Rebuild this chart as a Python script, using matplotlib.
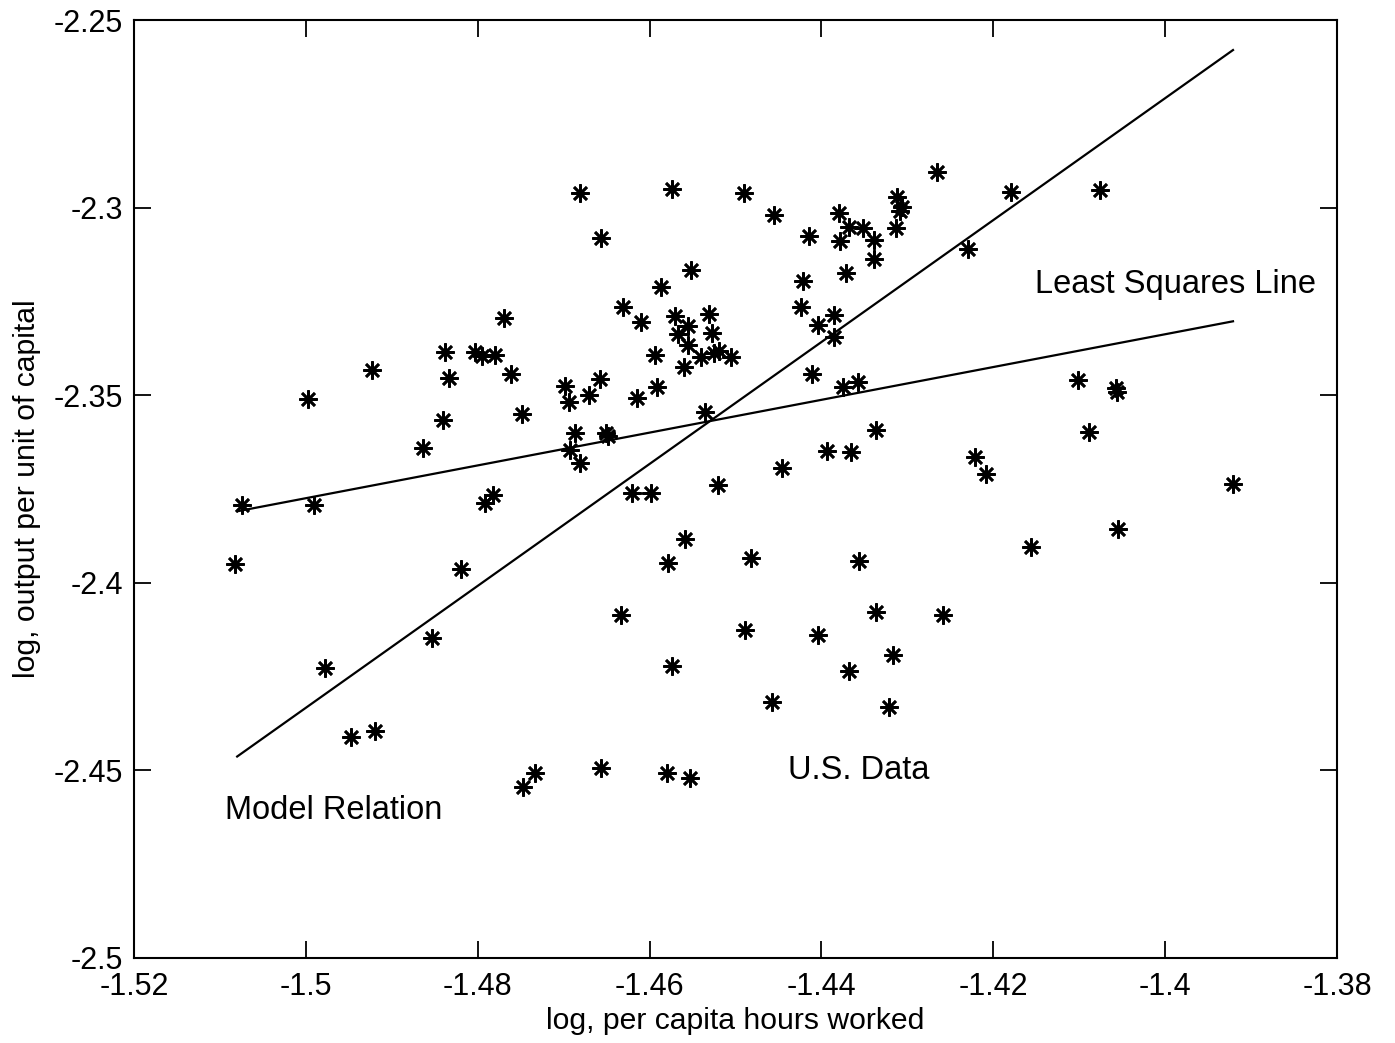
import matplotlib
matplotlib.use("Agg")
import matplotlib.pyplot as plt
import numpy as np

plt.rcParams["font.family"] = ["Liberation Sans", "DejaVu Sans"]

# U.S. data: log per capita hours worked vs log output per unit of capital
hours = [
    -1.5082, -1.5074, -1.4991, -1.4997, -1.4978, -1.4948, -1.4920, -1.4923, -1.4864, -1.4853,
    -1.4840, -1.4838, -1.4834, -1.4820, -1.4803, -1.4795, -1.4780, -1.4769, -1.4761, -1.4749,
    -1.4791, -1.4782, -1.4747, -1.4733, -1.4699, -1.4694, -1.4687, -1.4693, -1.4681, -1.4681,
    -1.4657, -1.4658, -1.4671, -1.4657, -1.4651, -1.4648, -1.4633, -1.4631, -1.4615, -1.4620,
    -1.4610, -1.4598, -1.4594, -1.4591, -1.4587, -1.4580, -1.4578, -1.4574, -1.4574, -1.4570,
    -1.4567, -1.4559, -1.4560, -1.4555, -1.4555, -1.4553, -1.4552, -1.4540, -1.4535, -1.4531,
    -1.4527, -1.4525, -1.4519, -1.4505, -1.4520, -1.4490, -1.4489, -1.4482, -1.4457, -1.4455,
    -1.4446, -1.4424, -1.4422, -1.4414, -1.4411, -1.4404, -1.4404, -1.4393, -1.4385, -1.4385,
    -1.4379, -1.4378, -1.4375, -1.4371, -1.4368, -1.4368, -1.4366, -1.4357, -1.4356, -1.4352,
    -1.4339, -1.4339, -1.4336, -1.4336, -1.4321, -1.4317, -1.4313, -1.4312, -1.4306, -1.4308,
    -1.4265, -1.4259, -1.4230, -1.4221, -1.4208, -1.4179, -1.4156, -1.4101, -1.4089, -1.4076,
    -1.4057, -1.4056, -1.4055, -1.3921,
]
output = [
    -2.3950, -2.3793, -2.3793, -2.3511, -2.4228, -2.4410, -2.4394, -2.3433, -2.3642, -2.4148,
    -2.3566, -2.3384, -2.3455, -2.3964, -2.3384, -2.3396, -2.3393, -2.3295, -2.3444, -2.3550,
    -2.3787, -2.3766, -2.4543, -2.4508, -2.3475, -2.3519, -2.3602, -2.3646, -2.3682, -2.2962,
    -2.3082, -2.3457, -2.3499, -2.4494, -2.3602, -2.3609, -2.4086, -2.3264, -2.3508, -2.3760,
    -2.3304, -2.3760, -2.3393, -2.3478, -2.3211, -2.4506, -2.3946, -2.2951, -2.4222, -2.3288,
    -2.3338, -2.3884, -2.3424, -2.3316, -2.3366, -2.4521, -2.3166, -2.3399, -2.3544, -2.3284,
    -2.3333, -2.3388, -2.3381, -2.3397, -2.3739, -2.2960, -2.4126, -2.3935, -2.4317, -2.3020,
    -2.3695, -2.3266, -2.3195, -2.3076, -2.3444, -2.3313, -2.4139, -2.3648, -2.3286, -2.3344,
    -2.3014, -2.3088, -2.3477, -2.3175, -2.3051, -2.4234, -2.3651, -2.3466, -2.3941, -2.3055,
    -2.3086, -2.3138, -2.3593, -2.4077, -2.4330, -2.4192, -2.3053, -2.2971, -2.2998, -2.3009,
    -2.2904, -2.4087, -2.3111, -2.3665, -2.3709, -2.2959, -2.3904, -2.3460, -2.3597, -2.2954,
    -2.3480, -2.3492, -2.3856, -2.3736,
]

# end points of the two lines
model_x = [-1.5080, -1.3921]
model_y = [-2.4463, -2.2580]
lsq_x = [-1.5079, -1.3921]
lsq_y = [-2.3809, -2.3303]

xticks = [-1.52, -1.50, -1.48, -1.46, -1.44, -1.42, -1.40, -1.38]
xtick_labels = ["-1.52", "-1.5", "-1.48", "-1.46", "-1.44", "-1.42", "-1.4", "-1.38"]
yticks = [-2.50, -2.45, -2.40, -2.35, -2.30, -2.25]
ytick_labels = ["-2.5", "-2.45", "-2.4", "-2.35", "-2.3", "-2.25"]

fig = plt.figure(figsize=(13.95, 10.43), dpi=100)
ax = fig.add_axes([0.0961, 0.0815, 0.8623, 0.8993])

ax.plot(model_x, model_y, "-", color="black", lw=1.6)
ax.plot(lsq_x, lsq_y, "-", color="black", lw=1.6)
ax.plot(hours, output, ls="none", marker=(8, 2, 0), ms=13, mew=1.9, color="black")

ax.text(-1.4152, -2.3205, "Least Squares Line", fontsize=23.5, va="center", ha="left")
ax.text(-1.4439, -2.4499, "U.S. Data", fontsize=23.5, va="center", ha="left")
ax.text(-1.5094, -2.4606, "Model Relation", fontsize=23.5, va="center", ha="left")

ax.set_xlim(-1.52, -1.38)
ax.set_ylim(-2.5, -2.25)
ax.set_xticks(xticks)
ax.set_xticklabels(xtick_labels)
ax.set_yticks(yticks)
ax.set_yticklabels(ytick_labels)
ax.tick_params(direction="in", length=12, width=1.3, labelsize=22, top=True, right=True)
ax.tick_params(axis="x", pad=10)
ax.tick_params(axis="y", pad=8)
for s in ax.spines.values():
    s.set_linewidth(1.5)

ax.set_xlabel("log, per capita hours worked", fontsize=21.7, labelpad=4)
ax.set_ylabel("log, output per unit of capital", fontsize=21.7, labelpad=9)

fig.savefig("out.png", dpi=100)
